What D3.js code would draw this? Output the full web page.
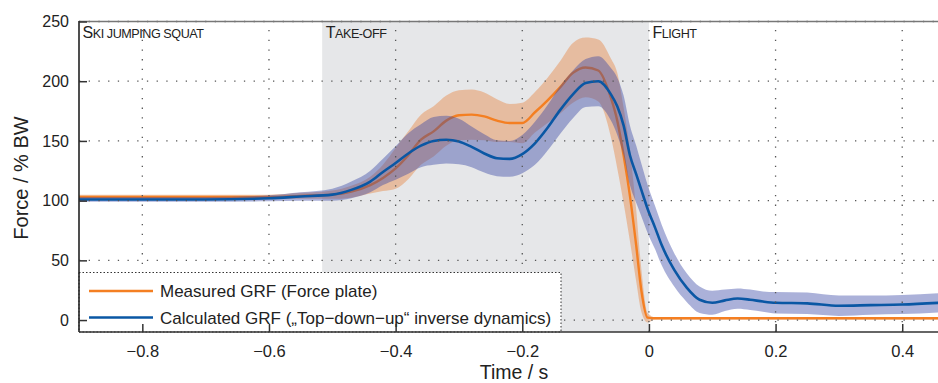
<!DOCTYPE html>
<html><head><meta charset="utf-8">
<script src="https://cdn.jsdelivr.net/npm/d3@7"></script>
<style>
html,body{margin:0;padding:0;background:#fff;}
svg{display:block;font-family:"Liberation Sans",Arial,sans-serif;}
</style></head>
<body><svg id="c" width="938" height="383"></svg>
<script>
// ---- data ----
const time = [-0.9,-0.8,-0.7,-0.6,-0.55,-0.5,-0.47,-0.44,-0.42,-0.40,-0.38,-0.36,-0.34,-0.32,-0.30,-0.28,-0.26,-0.24,-0.22,-0.20,-0.18,-0.16,-0.14,-0.12,-0.10,-0.08,-0.06,-0.05,-0.04,-0.03,-0.02,-0.012,-0.002,0.01,0.02,0.04,0.06,0.08,0.10,0.12,0.14,0.16,0.18,0.20,0.25,0.30,0.35,0.40,0.46];
const measuredMean = [103,103,103,103,104,105,107.5,113,119,127,138,151,158,167,171.5,172,170.5,167,165,165,174,184,195,207,211.5,209,186,167,138,104,62,25,2,1.5,1.5,1.5,1.5,1.5,1.5,1.5,1.5,1.5,1.5,1.5,1.5,1.5,1.5,1.5,1.5];
const measuredSD = [2,2,2,2,2.5,3.5,5,7,11,17,20,21,21,21,21,21,20,18,16,17,17,19,22,25,25,26,33,40,40,38,30,18,4,1,1,1,1,1,1,1,1,1,1,1,1,1,1,1,1];
const calcMean = [101,101,101,102,103.5,105,109,116,124,131.5,139.5,146,150,151,149.5,145,139.5,135.5,135,139,148,161,176,189,198.5,200,189,179,163,138,122,109,93,77,63,42,27,17,14.5,16.5,18,17,15.5,14.5,14,12,12.5,13,14.5];
const calcSD = [2,2,2,2.5,3.5,5,7,9,11,14,17,18,20,20,19,17,16,15,15,16,18,19,20,20,20,21,22,24,25,25,24,22,20,18,17,14,12,11,10,9,8.5,8.5,8.5,9,9,8.5,8,8,8];
const xTicks = [-0.8,-0.6,-0.4,-0.2,0,0.2,0.4];
const yTicks = [0,50,100,150,200,250];
const phases = [{cap:"S",rest:"KI JUMPING SQUAT",t:-0.9},{cap:"T",rest:"AKE-OFF",t:-0.516},{cap:"F",rest:"LIGHT",t:0}];
const takeOff = [-0.516, 0];
const legendLabels = ["Measured GRF (Force plate)","Calculated GRF (\u201eTop\u2212down\u2212up\u201c inverse dynamics)"];

// ---- layout ----
const L=79, R=938, T=21.5, B=332;
const svg = d3.select("#c");
const x = d3.scaleLinear().domain([-0.9,0.4565]).range([L,R]);
const y = d3.scaleLinear().domain([-10,250]).range([B,T]);

svg.append("defs").append("clipPath").attr("id","clip")
  .append("rect").attr("x",L).attr("y",T).attr("width",R-L).attr("height",B-T);

// take-off shading
svg.append("rect").attr("x",x(takeOff[0])).attr("y",T).attr("width",x(takeOff[1])-x(takeOff[0])).attr("height",B-T)
  .attr("fill","#e6e7e9");

const g = svg.append("g").attr("clip-path","url(#clip)");
const idx = d3.range(time.length);
const band = (m,s)=>d3.area().x(i=>x(time[i])).y0(i=>y(m[i]-s[i])).y1(i=>y(m[i]+s[i])).curve(d3.curveMonotoneX);
const line = (m)=>d3.line().x(i=>x(time[i])).y(i=>y(m[i])).curve(d3.curveMonotoneX);

g.append("path").attr("d",band(measuredMean,measuredSD)(idx)).attr("fill","#e6a070").attr("fill-opacity",0.6);

// grid
const grid = svg.append("g").attr("stroke","#555").attr("stroke-width",1.3).attr("stroke-dasharray","1.3,8.4");
xTicks.forEach(t=>grid.append("line").attr("x1",x(t)).attr("x2",x(t)).attr("y1",B).attr("y2",T));
yTicks.forEach(v=>grid.append("line").attr("x1",L).attr("x2",R).attr("y1",y(v)).attr("y2",y(v)));

g.append("path").attr("d",line(measuredMean)(idx)).attr("fill","none").attr("stroke","#f47f22").attr("stroke-width",2.4);
g.append("path").attr("d",band(calcMean,calcSD)(idx)).attr("fill","#3846a4").attr("fill-opacity",0.42);
g.append("path").attr("d",line(calcMean)(idx)).attr("fill","none").attr("stroke","#0a57a4").attr("stroke-width",2.6);

// phase labels
phases.forEach(p=>{
  const tx = svg.append("text").attr("x",x(p.t)+3.5).attr("y",38).attr("fill","#222").attr("letter-spacing","-0.45");
  tx.append("tspan").attr("font-size",16).text(p.cap);
  tx.append("tspan").attr("font-size",12.6).text(p.rest);
});

// legend
const lg = svg.append("g");
lg.append("rect").attr("x",L).attr("y",272.5).attr("width",561-L).attr("height",B-272.5)
  .attr("fill","#fff").attr("stroke","#333").attr("stroke-width",1).attr("stroke-dasharray","1.5,2");
const lc = ["#f47f22","#0a57a4"];
legendLabels.forEach((s,i)=>{
  const yy = 291 + i*26.5;
  lg.append("line").attr("x1",89).attr("x2",153).attr("y1",yy).attr("y2",yy).attr("stroke",lc[i]).attr("stroke-width",2.4);
  lg.append("text").attr("x",160).attr("y",yy+6).attr("font-size",17).attr("fill","#222").text(s);
});

// axes
const ax = svg.append("g").attr("stroke-linecap","butt");
ax.append("line").attr("x1",L).attr("x2",R).attr("y1",T).attr("y2",T).attr("stroke","#777").attr("stroke-width",1.5);
ax.append("line").attr("x1",L).attr("x2",L).attr("y1",T-0.5).attr("y2",B).attr("stroke","#222").attr("stroke-width",1.6);
ax.append("line").attr("x1",L).attr("x2",R).attr("y1",B).attr("y2",B).attr("stroke","#333").attr("stroke-width",1.6);

const xAxis = d3.axisBottom(x).tickValues(xTicks).tickSize(-8).tickPadding(13)
  .tickFormat(d=>d===0?"0":d3.format(".1f")(d).replace("-","\u2212"));
const xg = svg.append("g").attr("transform",`translate(0,${B})`).call(xAxis);
xg.select(".domain").remove();
xg.selectAll("line").attr("stroke","#333").attr("stroke-width",1.5);
xg.selectAll("text").attr("font-size",16.5).attr("fill","#222").attr("font-family","Liberation Sans, Arial, sans-serif");

const yAxis = d3.axisLeft(y).tickValues(yTicks).tickSize(-8).tickPadding(10);
const yg = svg.append("g").attr("transform",`translate(${L},0)`).call(yAxis);
yg.select(".domain").remove();
yg.selectAll("line").attr("stroke","#333").attr("stroke-width",1.5);
yg.selectAll("text").attr("font-size",16).attr("fill","#222").attr("font-family","Liberation Sans, Arial, sans-serif");

svg.append("text").attr("x",514).attr("y",378.5).attr("text-anchor","middle").attr("font-size",19.5).attr("fill","#222").text("Time / s");
svg.append("text").attr("transform","translate(28,178) rotate(-90)").attr("text-anchor","middle").attr("font-size",20).attr("fill","#222").text("Force / % BW");
</script></body></html>
